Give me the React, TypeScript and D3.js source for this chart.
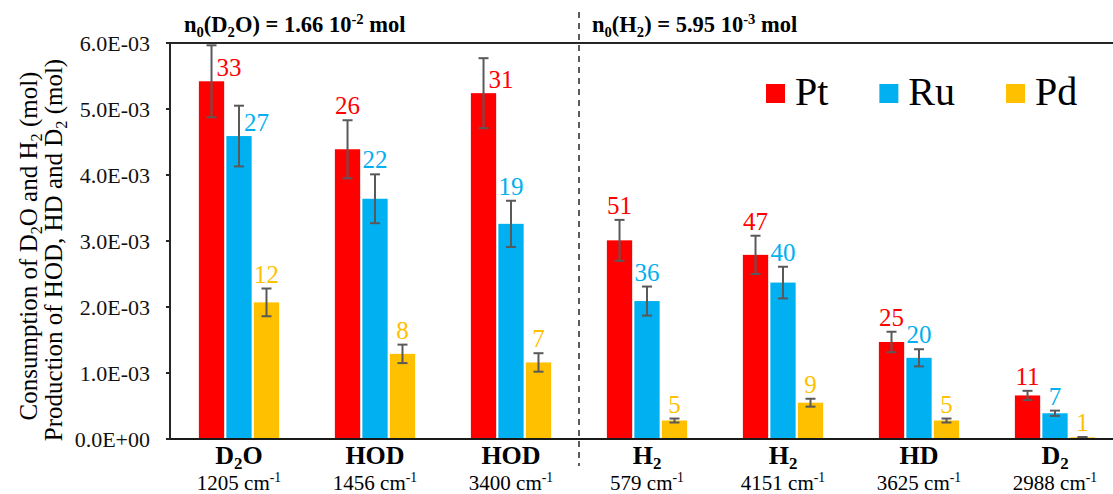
import * as d3 from "d3";

const categories = ["D2O-1205", "HOD-1456", "HOD-3400", "H2-579", "H2-4151", "HD-3625", "D2-2988"];
const species = ["D_{2}O", "HOD", "HOD", "H_{2}", "H_{2}", "HD", "D_{2}"];
const wavenumbers = ["1205", "1456", "3400", "579", "4151", "3625", "2988"];

const series = ["Pt", "Ru", "Pd"];
const colors = ["#FF0000", "#00B0F0", "#FFC000"];

// mol (x 1e-3)
const ptValues = [5.42, 4.39, 5.24, 3.01, 2.79, 1.47, 0.66];
const ruValues = [4.59, 3.64, 3.26, 2.09, 2.37, 1.23, 0.39];
const pdValues = [2.07, 1.29, 1.16, 0.28, 0.55, 0.28, 0.025];

const ptErr = [0.545, 0.44, 0.53, 0.31, 0.29, 0.155, 0.07];
const ruErr = [0.46, 0.37, 0.35, 0.22, 0.24, 0.13, 0.04];
const pdErr = [0.21, 0.14, 0.14, 0.03, 0.06, 0.03, 0.005];

const ptPct = [33, 26, 31, 51, 47, 25, 11];
const ruPct = [27, 22, 19, 36, 40, 20, 7];
const pdPct = [12, 8, 7, 5, 9, 5, 1];

const yTicks = [0, 1e-3, 2e-3, 3e-3, 4e-3, 5e-3, 6e-3];

// labels that sit beside the bar instead of above the error bar
const sideLabels = new Set(["D2O-1205|Pt", "D2O-1205|Ru", "HOD-3400|Pt"]);

const titleLeft = "n_{0}(D_{2}O) = 1.66 10^{-2} mol";
const titleRight = "n_{0}(H_{2}) = 5.95 10^{-3} mol";
const yTitle1 = "Consumption of D_{2}O and H_{2} (mol)";
const yTitle2 = "Production of HOD, HD and D_{2} (mol)";

const FONT = "Liberation Serif, DejaVu Serif, serif";

const valuesBySeries = [ptValues, ruValues, pdValues];
const errBySeries = [ptErr, ruErr, pdErr];
const pctBySeries = [ptPct, ruPct, pdPct];

function excelExp(v: number) {
  if (v === 0) return "0.0E+00";
  const e = Math.floor(Math.log10(v) + 1e-9);
  const m = v / Math.pow(10, e);
  const s = e < 0 ? "-" : "+";
  return `${m.toFixed(1)}E${s}${String(Math.abs(e)).padStart(2, "0")}`;
}

function Rich({ text, size }: { text: string; size: number }) {
  const parts = text.split(/(_\{[^}]*\}|\^\{[^}]*\})/).filter(Boolean);
  let shift = 0;
  return (
    <>
      {parts.map((p, i) => {
        let target = 0;
        let content = p;
        let fs = size;
        if (p.startsWith("_{")) {
          target = size * 0.2;
          content = p.slice(2, -1);
          fs = size * 0.65;
        } else if (p.startsWith("^{")) {
          target = -size * 0.36;
          content = p.slice(2, -1);
          fs = size * 0.65;
        }
        const dy = target - shift;
        shift = target;
        return (
          <tspan key={i} dy={dy} fontSize={fs}>
            {content}
          </tspan>
        );
      })}
    </>
  );
}

let measureCtx: CanvasRenderingContext2D | null = null;
function textWidth(t: string, font: string) {
  if (!measureCtx) measureCtx = document.createElement("canvas").getContext("2d");
  if (!measureCtx) return t.length * 20;
  measureCtx.font = font;
  return measureCtx.measureText(t).width;
}

export default function App() {
  const width = 1113;
  const height = 494;

  const x = d3.scaleBand<string>().domain(categories).range([171, 1123]).padding(0);
  const groupW = x.bandwidth() * 0.59;
  const inner = d3.scaleBand<string>().domain(series).range([0, groupW]).paddingInner(0.08);
  const y = d3.scaleLinear().domain([0, 6e-3]).range([439, 43]);

  const axisX = 170;
  const plotRight = 1123;
  const divX = x(categories[3])!;

  // legend layout
  const legendFont = 40;
  const legendSq = 19;
  let lx = 766;
  const legendItems = series.map((s, i) => {
    const item = { s, color: colors[i], x: lx };
    lx += legendSq + 10 + textWidth(s, `${legendFont}px "Liberation Serif"`) + 51;
    return item;
  });

  return (
    <svg
      width={width}
      height={height}
      style={{ position: "absolute", left: 0, top: 0, background: "#fff", fontFamily: FONT }}
    >
      {/* bars */}
      {categories.map((c, ci) => {
        const gx = x(c)! + (x.bandwidth() - groupW) / 2;
        return (
          <g key={c}>
            {series.map((s, si) => {
              const v = valuesBySeries[si][ci] * 1e-3;
              const e = errBySeries[si][ci] * 1e-3;
              const bx = gx + inner(s)!;
              const bw = inner.bandwidth();
              const cx = bx + bw / 2;
              const top = y(v);
              const eTop = y(v + e);
              const eBot = y(Math.max(0, v - e));
              const side = sideLabels.has(`${c}|${s}`);
              return (
                <g key={s}>
                  <rect x={bx} y={top} width={bw} height={y(0) - top} fill={colors[si]} />
                  <g stroke="#595959" strokeWidth={2}>
                    <line x1={cx} x2={cx} y1={eTop} y2={eBot} />
                    <line x1={cx - 5} x2={cx + 5} y1={eTop} y2={eTop} />
                    <line x1={cx - 5} x2={cx + 5} y1={eBot} y2={eBot} />
                  </g>
                  <text
                    x={side ? cx + 5 : cx}
                    y={side ? top - 5 : eTop - 6}
                    textAnchor={side ? "start" : "middle"}
                    fontSize={25}
                    fill={colors[si]}
                  >
                    {pctBySeries[si][ci]}
                  </text>
                </g>
              );
            })}
          </g>
        );
      })}

      {/* axes frame */}
      <line x1={axisX - 4} x2={plotRight} y1={y(6e-3)} y2={y(6e-3)} stroke="#262626" strokeWidth={2} />
      <line x1={axisX - 4} x2={plotRight} y1={y(0)} y2={y(0)} stroke="#1a1a1a" strokeWidth={2} />
      <line x1={axisX} x2={axisX} y1={y(6e-3)} y2={y(0)} stroke="#262626" strokeWidth={2} />
      {yTicks.map((t) => (
        <g key={t}>
          <line x1={axisX - 4} x2={axisX} y1={y(t)} y2={y(t)} stroke="#262626" strokeWidth={2} />
          <text x={150} y={y(t)} dy="0.35em" textAnchor="end" fontSize={22} fill="#111">
            {excelExp(t)}
          </text>
        </g>
      ))}

      {/* divider */}
      <line x1={divX} x2={divX} y1={12} y2={466} stroke="#333" strokeWidth={1.6} strokeDasharray="6,5" />

      {/* category labels */}
      {categories.map((c, ci) => {
        const cx = x(c)! + x.bandwidth() / 2;
        return (
          <g key={c}>
            <text x={cx} y={464} textAnchor="middle" fontSize={26} fontWeight="bold" fill="#000">
              <Rich text={species[ci]} size={26} />
            </text>
            <text x={cx} y={490} textAnchor="middle" fontSize={21} fill="#000">
              <Rich text={`${wavenumbers[ci]} cm^{-1}`} size={21} />
            </text>
          </g>
        );
      })}

      {/* titles */}
      <text x={x(categories[0])! + 13} y={32} fontSize={22.5} fontWeight="bold" fill="#000">
        <Rich text={titleLeft} size={22.5} />
      </text>
      <text x={divX + 13} y={32} fontSize={22.5} fontWeight="bold" fill="#000">
        <Rich text={titleRight} size={22.5} />
      </text>

      {/* y title */}
      <text transform={`translate(37,246) rotate(-90)`} textAnchor="middle" fontSize={25} fill="#000">
        <Rich text={yTitle1} size={25} />
      </text>
      <text transform={`translate(62,250) rotate(-90)`} textAnchor="middle" fontSize={25} fill="#000">
        <Rich text={yTitle2} size={25} />
      </text>

      {/* legend */}
      {legendItems.map((it) => (
        <g key={it.s}>
          <rect x={it.x} y={84} width={legendSq} height={legendSq} fill={it.color} />
          <text x={it.x + legendSq + 10} y={105} fontSize={legendFont} fill="#000">
            {it.s}
          </text>
        </g>
      ))}
    </svg>
  );
}
